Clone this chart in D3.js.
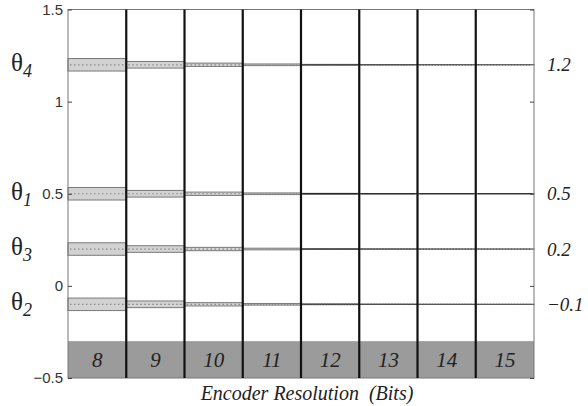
<!DOCTYPE html>
<html><head><meta charset="utf-8">
<script src="https://cdn.jsdelivr.net/npm/d3@7"></script>
<style>body{margin:0;background:#fff}svg{display:block}</style>
</head><body>
<svg id="c" width="588" height="406"></svg>
<script>
const resolutions = [8, 9, 10, 11, 12, 13, 14, 15];
const thetaNames = ["4", "1", "3", "2"];
const thetaValues = [1.2, 0.5, 0.2, -0.1];
const thetaLabels = ["1.2", "0.5", "0.2", "\u22120.1"];
const bandHalfWidths = [0.034, 0.018, 0.009, 0.0045, 0.002, 0.001, 0.0005, 0.00025];
const yTicks = [1.5, 1, 0.5, 0, -0.5];
const yTickLabels = ["1.5", "1", "0.5", "0", "\u22120.5"];
const rightTicks = [1.5, 1, 0.5, 0, -0.5];
const labelStripBottom = -0.5, labelStripTop = -0.3;

const serif = "'Liberation Serif', 'Times New Roman', serif";
const svg = d3.select("#c");
const L = 68, R = 534, T = 9.5, B = 378;
const x = d3.scaleBand().domain(resolutions).range([L, R]).paddingInner(0).paddingOuter(0);
const y = d3.scaleLinear().domain([-0.5, 1.5]).range([B, T]);

// label strip
svg.append("rect").attr("x", L).attr("width", R - L)
  .attr("y", y(labelStripTop)).attr("height", y(labelStripBottom) - y(labelStripTop))
  .attr("fill", "#9b9b9b");

// bands
const g = svg.append("g");
resolutions.forEach((r, i) => {
  thetaValues.forEach((v, k) => {
    const hw = bandHalfWidths[i];
    const y0 = y(v + hw), y1 = y(v - hw);
    g.append("rect").attr("x", x(r)).attr("width", x.bandwidth())
      .attr("y", y0).attr("height", Math.max(0.01, y1 - y0))
      .attr("fill", "#d2d2d2").attr("stroke", i < 4 ? "#7a7a7a" : "#444").attr("stroke-width", 1);
    g.append("line").attr("x1", x(r) + 2).attr("x2", x(r) + x.bandwidth() - 2)
      .attr("y1", y(v)).attr("y2", y(v))
      .attr("stroke", i < 4 ? "#8c8c8c" : (k === 1 ? "#222" : "#555")).attr("stroke-width", 1.2)
      .attr("stroke-dasharray", i < 3 ? "1.5,2.5" : (k === 1 && i > 3 ? null : "1.5,1.5"));
  });
});

// frame
svg.append("rect").attr("x", L).attr("y", T).attr("width", R - L).attr("height", B - T)
  .attr("fill", "none").attr("stroke", "#777").attr("stroke-width", 1);

// column separators
resolutions.slice(1).forEach(r => {
  svg.append("line").attr("x1", x(r)).attr("x2", x(r)).attr("y1", T).attr("y2", B)
    .attr("stroke", "#111").attr("stroke-width", 2.2);
});

// left axis
const yAxis = d3.axisLeft(y).tickValues(yTicks).tickSize(-4).tickPadding(5)
  .tickFormat((d, i) => yTickLabels[i]);
const ax = svg.append("g").attr("transform", `translate(${L},0)`).call(yAxis);
ax.select(".domain").remove();
ax.selectAll(".tick line").attr("stroke", "#444");
ax.selectAll(".tick text").attr("font-family", "'Liberation Sans', Arial, sans-serif")
  .attr("font-size", 15).attr("fill", "#333");

// right ticks
const rAxis = d3.axisRight(y).tickValues(rightTicks).tickSize(-4).tickFormat("");
const rx = svg.append("g").attr("transform", `translate(${R},0)`).call(rAxis);
rx.select(".domain").remove();
rx.selectAll(".tick line").attr("stroke", "#444");

// right value labels
thetaValues.forEach((v, i) => {
  svg.append("text").attr("x", 547).attr("y", y(v) + 6.5)
    .attr("font-family", serif).attr("font-style", "italic")
    .attr("font-size", 19).attr("fill", "#222").text(thetaLabels[i]);
});

// left theta labels
thetaValues.forEach((v, i) => {
  const t = svg.append("text").attr("x", 11).attr("y", y(v) + 6)
    .attr("font-family", serif)
    .attr("font-size", 25).attr("fill", "#222");
  t.append("tspan").text("\u03b8");
  t.append("tspan").attr("dy", 6).attr("font-size", 18).attr("font-style", "italic").text(thetaNames[i]);
});

// column labels
resolutions.forEach(r => {
  svg.append("text").attr("x", x(r) + x.bandwidth() / 2)
    .attr("y", (y(labelStripTop) + y(labelStripBottom)) / 2 + 7)
    .attr("text-anchor", "middle")
    .attr("font-family", serif).attr("font-style", "italic")
    .attr("font-size", 21).attr("fill", "#222").text(r);
});

// x label
svg.append("text").attr("x", (L + R) / 2 + 6).attr("y", 400).attr("text-anchor", "middle")
  .attr("font-family", serif).attr("font-style", "italic")
  .attr("font-size", 20).attr("fill", "#222")
  .text("Encoder Resolution\u00a0 (Bits)");
</script>
</body></html>
